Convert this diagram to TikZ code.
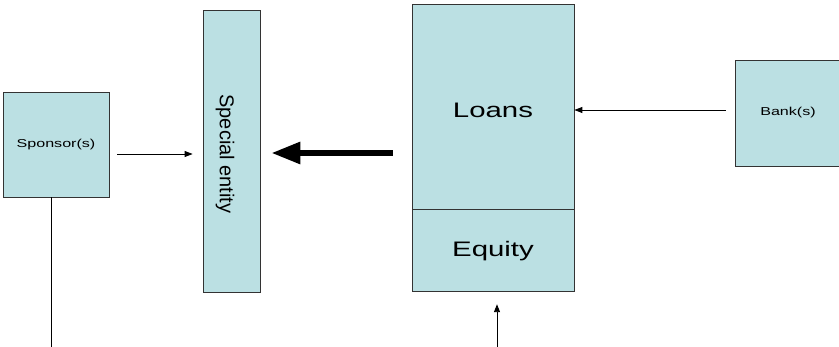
\documentclass[tikz,border=0pt]{standalone}
\usepackage{fontspec}
\setmainfont{Liberation Sans}
\usepackage{graphicx}
\usetikzlibrary{arrows.meta,calc,positioning}

\definecolor{boxfill}{HTML}{BBE0E3}
\newcommand\widetext[1]{\scalebox{1.4}[1]{#1}}

\begin{document}
\begin{tikzpicture}[
    x=1pt, y=-1pt,
    box/.style={
      draw=black!80,
      line width=0.8pt,
      fill=boxfill,
      inner sep=0pt
    },
    link/.style={
      -{Triangle[length=8pt,width=6pt]},
      line width=0.9pt
    },
    bigarrow/.style={
      -{Triangle[length=29pt,width=21pt]},
      line width=6pt
    },
    smalltext/.style={font=\fontsize{11.5}{13}\selectfont},
    bigtext/.style={font=\fontsize{21}{24}\selectfont}
  ]

  \useasboundingbox (0,0) rectangle (839,347);

  % Boxes
  \node [
    box, smalltext,
    minimum width=106pt,
    minimum height=105pt
  ] (sponsor) at (56,144.5) {\widetext{Sponsor(s)}};
  \node [
    box,
    minimum width=57pt,
    minimum height=282pt
  ] (special) at (231.5,151) {};
  \node [
    rotate=-90,
    font=\fontsize{20}{22}\selectfont
  ] (specialtext) at (225,154) {Special entity};
  \node [
    box, bigtext,
    text height=23pt,
    text depth=0pt,
    minimum width=162pt,
    minimum height=205pt
  ] (loans) at (493,106.5) {\widetext{Loans}};
  \node [
    box, bigtext,
    below=0pt of loans,
    minimum width=162pt,
    minimum height=82pt
  ] (equity) {\widetext{Equity}};
  \node [
    box, smalltext,
    minimum width=106pt,
    minimum height=106pt
  ] (bank) at (788,113) {\widetext{Bank(s)}};

  % Free ends
  \coordinate (sponsorend) at (51,347);
  \coordinate (equityend) at (497,347);
  \coordinate (sin) at ([yshift=-9.5pt]sponsor.east);
  \coordinate (lout) at ([yshift=-2pt]special.east);
  \coordinate (lin) at ([yshift=-3.5pt]loans.east);

  % Connecting Arrows
  \draw[link, shorten <=8pt, shorten >=10pt] (sin) -- (sin -| special.west);
  \draw[bigarrow, shorten <=19pt, shorten >=11pt] (lout -| loans.west) -- (lout);
  \draw[link, shorten <=9pt] (lin -| bank.west) -- (lin);
  \draw[line width=0.9pt] ([xshift=-5pt]sponsor.south) -- (sponsorend);
  \draw[link, shorten >=12pt] (equityend) -- (equityend |- equity.south);

\end{tikzpicture}
\end{document}
